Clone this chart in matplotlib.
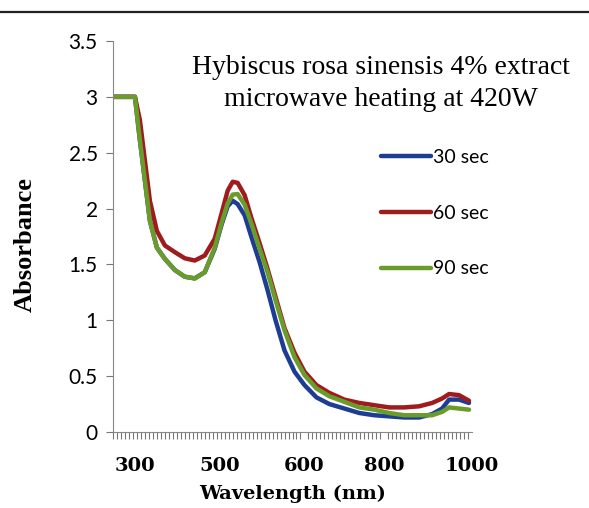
import matplotlib.pyplot as plt
from matplotlib.lines import Line2D

# position along the (category) wavelength axis, 0..90
pos = [0, 3, 5.5, 6.75, 8, 9.25, 11, 13, 15.5, 18, 20.5, 23, 25.5, 27.25, 28.75,
       30, 31.25, 33, 34.75, 36.75, 38.75, 40.75, 43, 45.5, 48, 51, 54.25, 58,
       61.75, 65.5, 69.25, 73, 76.75, 80, 82.5, 84.25, 86.75, 89.25]

abs_30 = [3.0, 3.0, 3.0, 2.61, 2.25, 1.89, 1.65, 1.55, 1.45, 1.39, 1.375, 1.43,
          1.64, 1.86, 2.02, 2.07, 2.04, 1.94, 1.74, 1.52, 1.27, 1.00, 0.73, 0.54,
          0.42, 0.31, 0.25, 0.21, 0.17, 0.15, 0.14, 0.13, 0.13, 0.16, 0.21, 0.29,
          0.29, 0.26]
abs_60 = [3.0, 3.0, 3.0, 2.79, 2.43, 2.07, 1.80, 1.67, 1.61, 1.555, 1.535, 1.58,
          1.73, 1.96, 2.16, 2.24, 2.23, 2.12, 1.91, 1.69, 1.46, 1.21, 0.93, 0.71,
          0.54, 0.42, 0.35, 0.29, 0.26, 0.24, 0.22, 0.22, 0.23, 0.26, 0.30, 0.34,
          0.33, 0.28]
abs_90 = [3.0, 3.0, 3.0, 2.61, 2.25, 1.89, 1.65, 1.55, 1.45, 1.39, 1.375, 1.43,
          1.65, 1.875, 2.045, 2.125, 2.13, 2.035, 1.86, 1.64, 1.43, 1.18, 0.91,
          0.67, 0.51, 0.39, 0.32, 0.27, 0.22, 0.20, 0.17, 0.15, 0.15, 0.15, 0.18,
          0.22, 0.21, 0.20]

tick_pos = [5.5, 26.75, 48, 68, 90]
tick_labels = ['300', '500', '600', '800', '1000']
y_ticks = [0, 0.5, 1, 1.5, 2, 2.5, 3, 3.5]

fig = plt.figure(figsize=(5.89, 5.08), dpi=100)
ax = fig.add_axes([113/589, 76/508, 359/589, 391/508])

ax.plot(pos, abs_30, color='#1d3c94', lw=3.2, label='30 sec', solid_capstyle='round')
ax.plot(pos, abs_60, color='#9e1c1e', lw=3.2, label='60 sec', solid_capstyle='round')
ax.plot(pos, abs_90, color='#6a9c2c', lw=3.2, label='90 sec', solid_capstyle='round')

ax.set_xlim(0, 90)
ax.set_ylim(0, 3.5)
ax.set_yticks(y_ticks)
ax.set_yticklabels(['0', '0.5', '1', '1.5', '2', '2.5', '3', '3.5'],
                   fontsize=15, family='Lato')
ax.set_xticks(tick_pos)
ax.set_xticklabels(tick_labels, fontsize=14, family='DejaVu Serif', fontweight='bold')
ax.set_xticks(range(0, 91), minor=True)
ax.tick_params(axis='x', which='major', length=0, pad=18)
ax.tick_params(axis='x', which='minor', length=5, color='#777777', width=0.8)
ax.tick_params(axis='y', length=5, color='#777777', width=0.8, pad=6)

for s in ['top', 'right']:
    ax.spines[s].set_visible(False)
ax.spines['left'].set_color('#888888')
ax.spines['bottom'].set_color('#888888')

ax.set_xlabel('Wavelength (nm)', fontsize=14, family='DejaVu Serif',
              fontweight='bold', labelpad=7)
ax.set_ylabel('Absorbance', fontsize=19, family='Liberation Serif',
              fontweight='bold')
ax.yaxis.set_label_coords((37 - 113) / 359, (432 - 245) / 391)

fig.text(381/589, 1 - 68/508, 'Hybiscus rosa sinensis 4% extract', ha='center',
         va='center', fontsize=20, family='Liberation Serif')
fig.text(381/589, 1 - 100/508, 'microwave heating at 420W', ha='center',
         va='center', fontsize=20, family='Liberation Serif')

ax.legend(loc='upper left', bbox_to_anchor=(371/589, 1 - 139/508),
          bbox_transform=fig.transFigure, frameon=False, borderpad=0,
          handlelength=2.6, handletextpad=0.1, labelspacing=2.0,
          prop={'family': 'Lato', 'size': 14})

fig.add_artist(Line2D([0, 1], [1 - 12/508, 1 - 12/508], color='#222222', lw=1.6))

plt.savefig('out.png', dpi=100)
